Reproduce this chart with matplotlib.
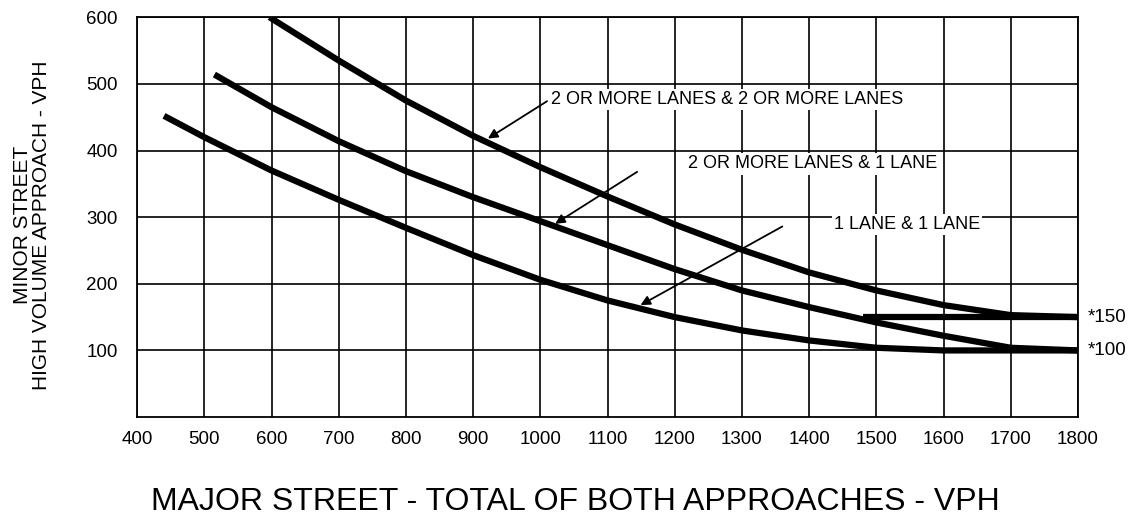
import matplotlib
matplotlib.use("Agg")
import matplotlib.pyplot as plt

plt.rcParams['font.family'] = ['Liberation Sans', 'DejaVu Sans']

# curve readings (major street vph, minor street vph)
two_two_x = [597, 700, 800, 900, 1000, 1100, 1200, 1300, 1400, 1500, 1600, 1700, 1800]
two_two_y = [600, 535, 475, 422, 375, 331, 289, 251, 217, 190, 168, 153, 150]

two_one_x = [515, 600, 700, 800, 900, 1000, 1100, 1200, 1300, 1400, 1500, 1600, 1700, 1800]
two_one_y = [514, 465, 414, 369, 330, 294, 258, 222, 190, 165, 142, 122, 104, 100]

one_one_x = [440, 500, 600, 700, 800, 900, 1000, 1100, 1200, 1300, 1400, 1500, 1600, 1700, 1800]
one_one_y = [452, 420, 370, 326, 284, 243, 206, 175, 150, 130, 115, 104, 100, 100, 100]

floor_150_x = [1480, 1800]
floor_150_y = [150, 150]

x_ticks = list(range(400, 1900, 100))
y_ticks = [100, 200, 300, 400, 500, 600]

labels = ["2 OR MORE LANES & 2 OR MORE LANES",
          "2 OR MORE LANES & 1 LANE",
          "1 LANE & 1 LANE"]
label_pos = [(1016, 477), (1220, 380), (1437, 289)]
arrow_from = [(1010, 474), (1144, 368), (1360, 286)]
arrow_to = [(922, 418), (1022, 290), (1149, 168)]

fig = plt.figure(figsize=(11.33, 5.22), dpi=100)
ax = fig.add_axes([0.121, 0.201, 0.8305, 0.766])

ax.set_xlim(400, 1800)
ax.set_ylim(0, 600)
ax.set_xticks(x_ticks)
ax.set_yticks(y_ticks)
ax.tick_params(length=0, labelsize=13.5, pad=10)
ax.tick_params(axis='y', pad=14)
ax.grid(True, color='black', linewidth=1.2)
for s in ax.spines.values():
    s.set_linewidth(1.3)

lw = 4.5
ax.plot(two_two_x, two_two_y, color='black', lw=lw, solid_capstyle='butt', zorder=3)
ax.plot(two_one_x, two_one_y, color='black', lw=lw, solid_capstyle='butt', zorder=3)
ax.plot(one_one_x, one_one_y, color='black', lw=lw, solid_capstyle='butt', zorder=3)
ax.plot(floor_150_x, floor_150_y, color='black', lw=lw, solid_capstyle='butt', zorder=3)

for txt, pos, a0, a1 in zip(labels, label_pos, arrow_from, arrow_to):
    ax.text(pos[0], pos[1], txt, fontsize=13, va='center', ha='left', zorder=4,
            bbox=dict(facecolor='white', edgecolor='none', pad=1.5))
    ax.annotate("", xy=a1, xytext=a0, zorder=4,
                arrowprops=dict(arrowstyle='-|>', color='black', lw=1.3,
                                mutation_scale=14, shrinkA=0, shrinkB=0))

ax.text(1815, 150, "*150", fontsize=13.5, va='center', ha='left', clip_on=False)
ax.text(1815, 100, "*100", fontsize=13.5, va='center', ha='left', clip_on=False)

fig.text(0.028, 0.569, "MINOR STREET\nHIGH VOLUME APPROACH - VPH", rotation=90,
         ha='center', va='center', fontsize=15, linespacing=1.0)
fig.text(0.508, 0.038, "MAJOR STREET - TOTAL OF BOTH APPROACHES - VPH",
         ha='center', va='center', fontsize=23)

fig.savefig("out.png", dpi=100)
